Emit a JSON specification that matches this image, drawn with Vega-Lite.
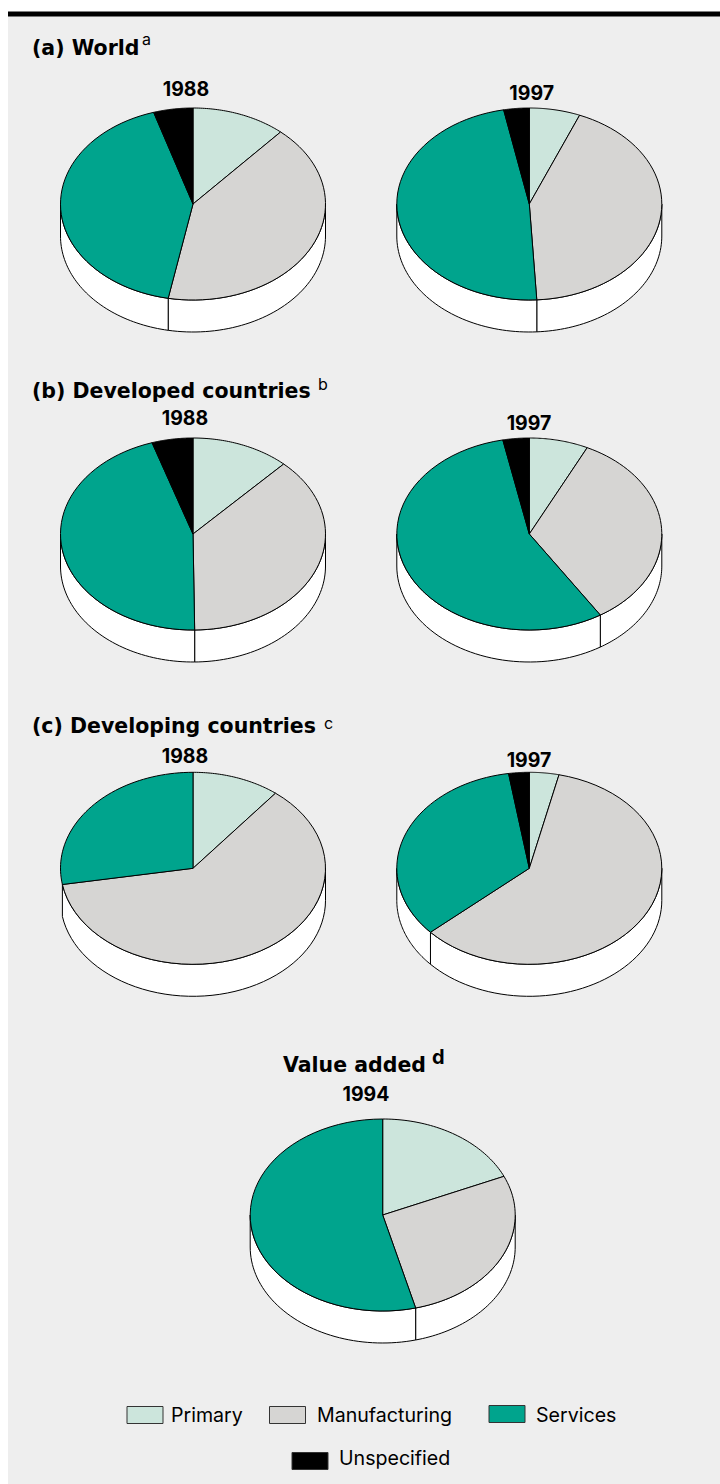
{
  "$schema": "https://vega.github.io/schema/vega-lite/v6.json",
  "description": "Sector shares of FDI stock by region and of world value added, drawn as tilted pies with a white rim.",
  "width": 720,
  "height": 1484,
  "autosize": {"type": "fit", "contains": "padding"},
  "padding": 0,
  "background": "white",
  "config": {"view": {"stroke": null}},
  "datasets": {
    "slices": [
      {"panel": "World", "year": 1988, "category": "Primary", "share": 11.5},
      {"panel": "World", "year": 1988, "category": "Manufacturing", "share": 41.5},
      {"panel": "World", "year": 1988, "category": "Services", "share": 42.2},
      {"panel": "World", "year": 1988, "category": "Unspecified", "share": 4.8},
      {"panel": "World", "year": 1997, "category": "Primary", "share": 6.2},
      {"panel": "World", "year": 1997, "category": "Manufacturing", "share": 42.9},
      {"panel": "World", "year": 1997, "category": "Services", "share": 47.8},
      {"panel": "World", "year": 1997, "category": "Unspecified", "share": 3.1},
      {"panel": "Developed", "year": 1988, "category": "Primary", "share": 12.0},
      {"panel": "Developed", "year": 1988, "category": "Manufacturing", "share": 37.8},
      {"panel": "Developed", "year": 1988, "category": "Services", "share": 45.2},
      {"panel": "Developed", "year": 1988, "category": "Unspecified", "share": 5.0},
      {"panel": "Developed", "year": 1997, "category": "Primary", "share": 7.2},
      {"panel": "Developed", "year": 1997, "category": "Manufacturing", "share": 33.8},
      {"panel": "Developed", "year": 1997, "category": "Services", "share": 55.8},
      {"panel": "Developed", "year": 1997, "category": "Unspecified", "share": 3.2},
      {"panel": "Developing", "year": 1988, "category": "Primary", "share": 10.7},
      {"panel": "Developing", "year": 1988, "category": "Manufacturing", "share": 61.6},
      {"panel": "Developing", "year": 1988, "category": "Services", "share": 27.7},
      {"panel": "Developing", "year": 1997, "category": "Primary", "share": 3.6},
      {"panel": "Developing", "year": 1997, "category": "Manufacturing", "share": 59.8},
      {"panel": "Developing", "year": 1997, "category": "Services", "share": 34.1},
      {"panel": "Developing", "year": 1997, "category": "Unspecified", "share": 2.5},
      {"panel": "Value added", "year": 1994, "category": "Primary", "share": 18.4},
      {"panel": "Value added", "year": 1994, "category": "Manufacturing", "share": 27.6},
      {"panel": "Value added", "year": 1994, "category": "Services", "share": 54.0}
    ],
    "legend": [
      {"category": "Primary"},
      {"category": "Manufacturing"},
      {"category": "Services"},
      {"category": "Unspecified"}
    ]
  },
  "data": {"name": "slices"},
  "transform": [
    {"calculate": "indexof(['Primary','Manufacturing','Services','Unspecified'],datum.category)", "as": "rank"},
    {"stack": "share", "groupby": ["panel", "year"], "sort": [{"field": "rank", "order": "ascending"}], "as": ["s0", "s1"]},
    {"calculate": "datum.year===1988?193:datum.year===1997?529.3:382.7", "as": "cx"},
    {"calculate": "({'World':204,'Developed':534,'Developing':868.3,'Value added':1215})[datum.panel]", "as": "cy"}
  ],
  "encoding": {
    "x": {"field": "px", "type": "quantitative", "axis": null, "scale": {"domain": [0, 720], "nice": false, "zero": false}},
    "y": {"field": "py", "type": "quantitative", "axis": null, "scale": {"domain": [0, 1484], "nice": false, "zero": false, "reverse": true}}
  },
  "layer": [
    {
      "data": {"values": [{"part": "panel"}]},
      "transform": [
        {"calculate": "8", "as": "px"}, {"calculate": "720", "as": "px2"},
        {"calculate": "14", "as": "py"}, {"calculate": "1484", "as": "py2"}
      ],
      "mark": {"type": "rect", "fill": "#eeeeee"},
      "encoding": {"x2": {"field": "px2"}, "y2": {"field": "py2"}}
    },
    {
      "data": {"values": [{"part": "rule"}]},
      "transform": [
        {"calculate": "8", "as": "px"}, {"calculate": "720", "as": "px2"},
        {"calculate": "11.5", "as": "py"}, {"calculate": "16.5", "as": "py2"}
      ],
      "mark": {"type": "rect", "fill": "black"},
      "encoding": {"x2": {"field": "px2"}, "y2": {"field": "py2"}}
    },
    {
      "transform": [
        {"calculate": "max(datum.s0,25)", "as": "a0"},
        {"calculate": "min(datum.s1,75)", "as": "a1"},
        {"filter": "datum.a1-datum.a0>3"},
        {"calculate": "sequence(0,103)", "as": "k"},
        {"flatten": ["k"]},
        {"calculate": "datum.k<=50?datum.k/50:datum.k<=101?(101-datum.k)/50:0", "as": "p"},
        {"calculate": "2*PI*(datum.a0+(datum.a1-datum.a0)*datum.p)/100", "as": "th"},
        {"calculate": "datum.cx+132.5*sin(datum.th)", "as": "px"},
        {"calculate": "datum.cy-96*cos(datum.th)+(datum.k>50&&datum.k<=101?32:0)", "as": "py"}
      ],
      "mark": {"type": "line", "fill": "white", "stroke": "black", "strokeWidth": 1, "strokeJoin": "round"},
      "encoding": {
        "order": {"field": "k", "type": "quantitative"},
        "detail": [{"field": "panel"}, {"field": "year"}, {"field": "category"}]
      }
    },
    {
      "transform": [
        {"calculate": "sequence(0,53)", "as": "k"},
        {"flatten": ["k"]},
        {"calculate": "2*PI*(datum.s0+(datum.s1-datum.s0)*(datum.k-1)/50)/100", "as": "th"},
        {"calculate": "datum.k===0||datum.k===52?datum.cx:datum.cx+132.5*sin(datum.th)", "as": "px"},
        {"calculate": "datum.k===0||datum.k===52?datum.cy:datum.cy-96*cos(datum.th)", "as": "py"}
      ],
      "mark": {"type": "line", "stroke": "black", "strokeWidth": 1, "strokeJoin": "round"},
      "encoding": {
        "order": {"field": "k", "type": "quantitative"},
        "detail": [{"field": "panel"}, {"field": "year"}],
        "fill": {
          "field": "category", "type": "nominal", "legend": null,
          "scale": {"domain": ["Primary", "Manufacturing", "Services", "Unspecified"], "range": ["#cce5dc", "#d6d5d3", "#00a48d", "#000000"]}
        }
      }
    },
    {
      "transform": [
        {"filter": "datum.category==='Primary'"},
        {"calculate": "datum.panel+' '+datum.year", "as": "pie"},
        {"calculate": "({'World 1988':186,'World 1997':531.7,'Developed 1988':185,'Developed 1997':529,'Developing 1988':185,'Developing 1997':529,'Value added 1994':366})[datum.pie]", "as": "px"},
        {"calculate": "({'World 1988':96,'World 1997':99.5,'Developed 1988':425,'Developed 1997':430,'Developing 1988':762.7,'Developing 1997':766.7,'Value added 1994':1100.7})[datum.pie]", "as": "py"}
      ],
      "mark": {"type": "text", "font": "Inter", "fontWeight": "bold", "fontSize": 19.5, "align": "center", "baseline": "alphabetic", "color": "black"},
      "encoding": {"text": {"field": "year", "type": "nominal"}}
    },
    {
      "data": {"values": [
        {"label": "(a) World"},
        {"label": "(b) Developed countries"},
        {"label": "(c) Developing countries"},
        {"label": "Value added"}
      ]},
      "transform": [
        {"calculate": "datum.label==='Value added'?283:32", "as": "px"},
        {"calculate": "({'(a) World':55,'(b) Developed countries':398,'(c) Developing countries':733,'Value added':1072})[datum.label]", "as": "py"}
      ],
      "mark": {"type": "text", "font": "DejaVu Sans", "fontWeight": "bold", "fontSize": 20.5, "align": "left", "baseline": "alphabetic", "color": "black"},
      "encoding": {"text": {"field": "label", "type": "nominal"}}
    },
    {
      "data": {"values": [{"note": "a"}, {"note": "b"}, {"note": "c"}]},
      "transform": [
        {"calculate": "({'a':142,'b':318,'c':324})[datum.note]", "as": "px"},
        {"calculate": "({'a':45,'b':390,'c':729})[datum.note]", "as": "py"}
      ],
      "mark": {"type": "text", "font": "Inter", "fontSize": 16, "align": "left", "baseline": "alphabetic", "color": "black"},
      "encoding": {"text": {"field": "note", "type": "nominal"}}
    },
    {
      "data": {"values": [{"note": "d"}]},
      "transform": [
        {"calculate": "432", "as": "px"},
        {"calculate": "1064", "as": "py"}
      ],
      "mark": {"type": "text", "font": "Inter", "fontWeight": "bold", "fontSize": 20, "align": "left", "baseline": "alphabetic", "color": "black"},
      "encoding": {"text": {"field": "note", "type": "nominal"}}
    },
    {
      "data": {"name": "legend"},
      "transform": [
        {"calculate": "({'Primary':127,'Manufacturing':269.5,'Services':489,'Unspecified':292})[datum.category]", "as": "px"},
        {"calculate": "datum.px+36", "as": "px2"},
        {"calculate": "({'Primary':1406.5,'Manufacturing':1406.5,'Services':1405.5,'Unspecified':1452.5})[datum.category]", "as": "py"},
        {"calculate": "datum.py+17", "as": "py2"}
      ],
      "mark": {"type": "rect", "stroke": "#333333", "strokeWidth": 1},
      "encoding": {
        "x2": {"field": "px2"},
        "y2": {"field": "py2"},
        "fill": {"field": "category", "type": "nominal", "legend": null}
      }
    },
    {
      "data": {"name": "legend"},
      "transform": [
        {"calculate": "({'Primary':171,'Manufacturing':317,'Services':536,'Unspecified':339})[datum.category]", "as": "px"},
        {"calculate": "datum.category==='Unspecified'?1465:1421.5", "as": "py"}
      ],
      "mark": {"type": "text", "font": "Inter", "fontSize": 19.6, "align": "left", "baseline": "alphabetic", "color": "black"},
      "encoding": {"text": {"field": "category", "type": "nominal"}}
    }
  ]
}
